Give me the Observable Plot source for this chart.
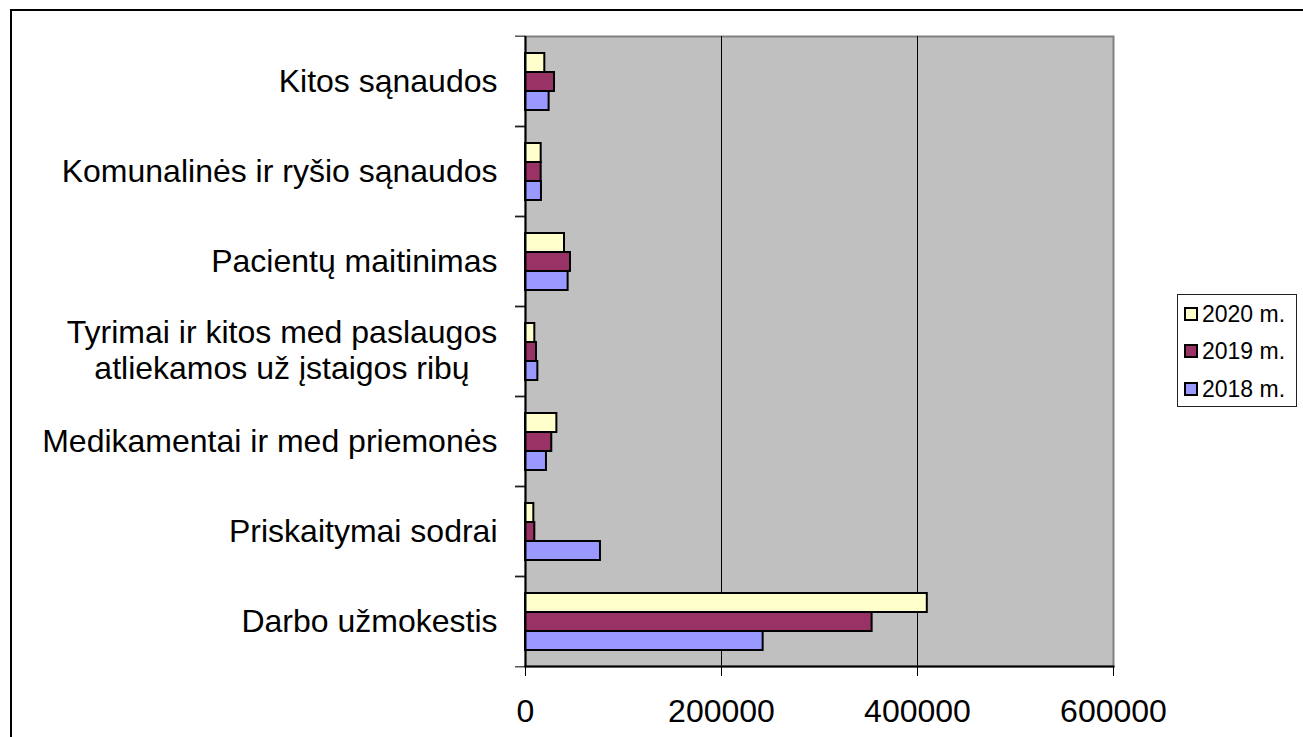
<!DOCTYPE html>
<html><head><meta charset="utf-8">
<script src="https://cdn.jsdelivr.net/npm/d3@7"></script>
<script src="https://cdn.jsdelivr.net/npm/@observablehq/plot@0.6"></script>
<style>
body{margin:0;background:#fff;}
#wrap{position:relative;width:1303px;height:737px;overflow:hidden;font-family:"Liberation Sans",Arial,sans-serif;}
#border{position:absolute;left:10px;top:9px;width:1400px;height:800px;border-top:2px solid #000;border-left:2px solid #000;}
#chart{position:absolute;left:0;top:0;}
#legend{position:absolute;left:1177px;top:294px;width:120px;height:113px;border:1px solid #222;background:#fff;box-sizing:border-box;}
.item{position:absolute;left:6px;height:26px;display:flex;align-items:center;font-size:23px;color:#000;white-space:nowrap;}
.sw{width:10px;height:10px;border:2px solid #000;margin-right:4px;}
</style></head>
<body><div id="wrap"><div id="border"></div><div id="chart"></div><div id="legend"></div></div>
<script>
const categories = [
  "Kitos sąnaudos",
  "Komunalinės ir ryšio sąnaudos",
  "Pacientų maitinimas",
  "Tyrimai ir kitos med paslaugos\natliekamos už įstaigos ribų",
  "Medikamentai ir med priemonės",
  "Priskaitymai sodrai",
  "Darbo užmokestis"
];
const years = ["2020 m.", "2019 m.", "2018 m."];
const values2020 = [19700, 16000, 39800, 9500, 32000, 8500, 410000];
const values2019 = [29600, 16000, 45900, 11200, 26800, 9500, 353700];
const values2018 = [24100, 16300, 43500, 12600, 21400, 76500, 242500];
const xTicks = [0, 200000, 400000, 600000];
const colors = ["#FFFFCC", "#993366", "#9999FF"];

const seriesValues = [values2020, values2019, values2018];
const data = categories.flatMap((c, i) => years.map((y, j) => ({category: c, year: y, value: seriesValues[j][i]})));

const multi = categories.filter(c => c.includes("\n"));
const single = categories.filter(c => !c.includes("\n"));
const band = (668 - 33) / categories.length;

const chart = Plot.plot({
  width: 1303,
  height: 737,
  marginLeft: 525,
  marginRight: 190,
  marginTop: 33,
  marginBottom: 69,
  style: {fontFamily: "'Liberation Sans', Arial, sans-serif", fontSize: "32px", color: "#000", background: "transparent"},
  x: {domain: [0, 600000], label: null},
  fy: {domain: categories, padding: 0},
  y: {domain: years, paddingInner: 0, paddingOuter: 0.767, axis: null},
  color: {domain: years, range: colors},
  marks: [
    Plot.frame({facet: "super", fill: "#c0c0c0", stroke: "#808080", strokeWidth: 2}),
    Plot.ruleX([200000, 400000], {stroke: "#000", strokeWidth: 1}),
    Plot.barX(data, {fy: "category", y: "year", x: "value", fill: "year", stroke: "#000", strokeWidth: 2}),
    Plot.ruleX([0], {stroke: "#000", strokeWidth: 2}),
    Plot.frame({facet: "super", anchor: "bottom", stroke: "#000", strokeWidth: 2}),
    Plot.axisX({ticks: xTicks, tickSize: 10, tickPadding: 23, tickFormat: d => String(d), fontSize: 32, label: null}),
    Plot.axisFy({anchor: "left", text: null, tickSize: 10, dy: -band / 2, label: null}),
    Plot.axisFy({anchor: "left", text: null, tickSize: 10, dy: band / 2, label: null}),
    Plot.text(single, {fy: d => d, text: d => d, frameAnchor: "left", textAnchor: "end", dx: -28, fontSize: 32, fill: "#000"}),
    Plot.text(multi, {fy: d => d, text: d => d, frameAnchor: "left", textAnchor: "middle", dx: -243.5, dy: -2, fontSize: 32, lineHeight: 1.13, fill: "#000"})
  ]
});
document.getElementById("chart").appendChild(chart);

const legend = document.getElementById("legend");
const tops = [6, 43, 81];
years.forEach((y, i) => {
  const it = document.createElement("div");
  it.className = "item";
  it.style.top = tops[i] + "px";
  const sw = document.createElement("span");
  sw.className = "sw";
  sw.style.background = colors[i];
  it.appendChild(sw);
  it.appendChild(document.createTextNode(y));
  legend.appendChild(it);
});
</script>
</body></html>
